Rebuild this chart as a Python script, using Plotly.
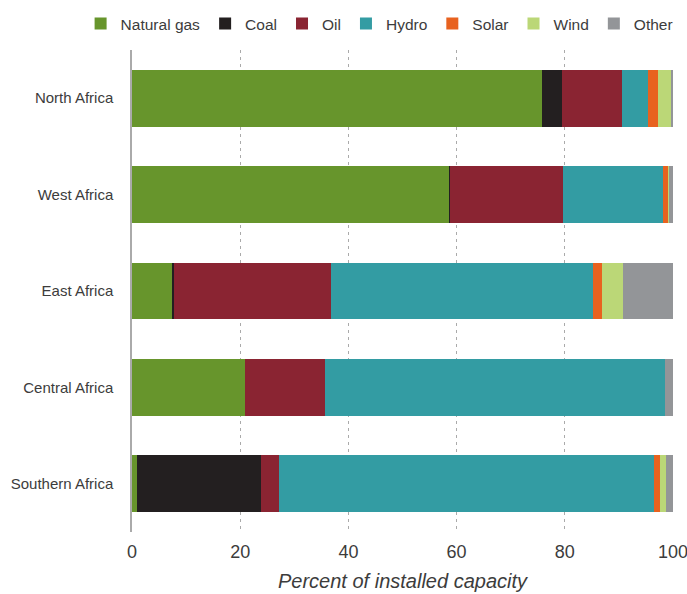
import plotly.graph_objects as go

regions = ["North Africa", "West Africa", "East Africa", "Central Africa", "Southern Africa"]
sources = ["Natural gas", "Coal", "Oil", "Hydro", "Solar", "Wind", "Other"]
natural_gas = [75.8, 58.6, 7.4, 20.9, 0.9]
coal = [3.7, 0.2, 0.4, 0.0, 22.9]
oil = [11.1, 20.9, 29.0, 14.8, 3.4]
hydro = [4.8, 18.5, 48.5, 62.8, 69.2]
solar = [1.8, 0.9, 1.6, 0.0, 1.2]
wind = [2.6, 0.2, 3.9, 0.0, 1.1]
other = [0.2, 0.7, 9.2, 1.5, 1.3]
colors = ["#67952c", "#231f20", "#8a2432", "#339ca3", "#e8621f", "#bbd777", "#939598"]
x_ticks = [0, 20, 40, 60, 80, 100]

series = [natural_gas, coal, oil, hydro, solar, wind, other]

fig = go.Figure()
for name, vals, col in zip(sources, series, colors):
    fig.add_trace(go.Bar(
        y=regions, x=vals, name=name, orientation="h",
        marker=dict(color=col, line=dict(width=0)),
        hoverinfo="x+y+name",
    ))

font_family = "Liberation Sans, Arial, sans-serif"
fig.update_layout(
    barmode="stack",
    bargap=0.41,
    width=687, height=594,
    margin=dict(l=132, r=14, t=50, b=62, autoexpand=False),
    plot_bgcolor="white", paper_bgcolor="white",
    font=dict(family=font_family, color="#3c3c3c"),
    legend=dict(
        orientation="h", x=-0.095, xanchor="left", y=1.054, yanchor="middle",
        font=dict(size=15.5, color="#3c3c3c"), traceorder="normal",
        itemwidth=30,
    ),
    xaxis=dict(
        range=[0, 100], tickvals=x_ticks, ticktext=[str(v) for v in x_ticks],
        showgrid=True, gridcolor="#aaaaaa", griddash="3px,4px", gridwidth=1,
        zeroline=False, showline=False, automargin=False,
        tickfont=dict(size=18, color="#3c3c3c"), ticklabeloverflow="allow",
        ticks="", ticklabelstandoff=7,
        title=dict(text="<i>Percent of installed capacity</i>", font=dict(size=20, color="#3c3c3c"), standoff=12),
    ),
    yaxis=dict(
        autorange="reversed", showgrid=False, showline=True, linecolor="#aaaaaa", linewidth=1.5,
        automargin=False,
        ticks="", tickfont=dict(size=15, color="#3c3c3c"), ticklabelstandoff=14,
    ),
)
fig.write_html("out.html", config={"displayModeBar": False},
               post_script="document.body.style.margin='0px';")
